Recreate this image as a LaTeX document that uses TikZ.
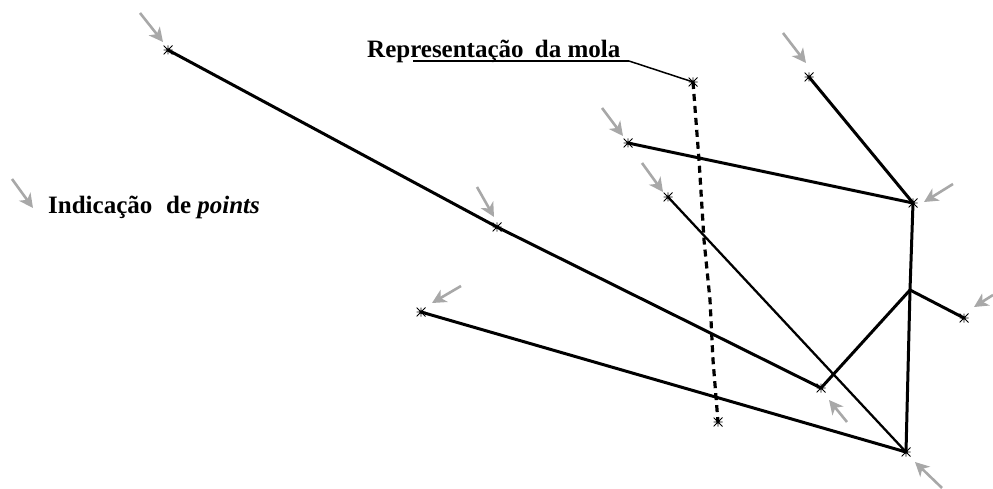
\documentclass[tikz,border=0pt]{standalone}
\usepackage{fontspec}
\setmainfont{Liberation Serif}
\usepackage{tikz}
\usetikzlibrary{arrows.meta}

\definecolor{cinzaseta}{RGB}{168,168,168}
\tikzset{
  ponto/.style={inner sep=0pt, minimum size=9pt,
    path picture={\draw[line width=0.9pt]
      (path picture bounding box.north) -- (path picture bounding box.south)
      (path picture bounding box.east) -- (path picture bounding box.west)
      (path picture bounding box.north east) -- (path picture bounding box.south west)
      (path picture bounding box.north west) -- (path picture bounding box.south east);}},
  barra/.style={line width=3pt, line cap=round},
  fina/.style={line width=2.3pt, line cap=round},
  seta/.style={cinzaseta, line width=2.6pt, -{Stealth[length=14pt, width=14pt, inset=4pt]}},
  molatraco/.style={line width=3.2pt, dash pattern=on 7pt off 5pt},
  rotulo/.style={font=\fontsize{25}{28}\selectfont\bfseries, inner sep=0pt}
}

\begin{document}
\begin{tikzpicture}[x=1pt, y=-1pt]
        \useasboundingbox (0,0) rectangle (993,489);
        % points
        \node[ponto] (a) at (168,50) {};
        \node[ponto] (b) at (497,227) {};
        \node[ponto] (c) at (821,388) {};
        \node[ponto] (e) at (964,318) {};
        \node[ponto] (f) at (913,203) {};
        \node[ponto] (g) at (906,452) {};
        \node[ponto] (h) at (809,77) {};
        \node[ponto] (i) at (628,143) {};
        \node[ponto] (j) at (668,197) {};
        \node[ponto] (k) at (421,312) {};
        \node[ponto] (s1) at (693,82) {};
        \node[ponto] (s2) at (718,422) {};
        \coordinate (d) at (910,290);

        % bars
        \draw[barra] (a.center) -- (b.center) -- (c.center);
        \draw[barra] (c.center) -- (d) -- (e.center);
        \draw[barra] (h.center) -- (f.center);
        \draw[barra] (i.center) -- (f.center);
        \draw[barra] (f.center) -- (d) -- (g.center);
        \draw[barra] (k.center) -- (g.center);
        \draw[fina] (j.center) -- (g.center);

        % spring
        \draw[molatraco] (s1.center) -- (699,160) -- (704,240) -- (710,300) -- (713,360) -- (s2.center);

        % labels
        \node[rotulo, anchor=base west] (mola) at (367,58)
          {Representação\hspace{0.2em} da mola};
        \coordinate (sub1) at (413,61);
        \coordinate (sub2) at (629,61);
        \draw[line width=2.4pt] (sub1) -- (sub2);
        \draw[line width=1.5pt] (sub2) -- (s1.center);

        \node[rotulo, anchor=base west] (legenda) at (48,214)
          {Indicação\hspace{0.3em} de \textit{points}};
        \coordinate (leg1) at (12,179);
        \coordinate (leg2) at (33,208);
        \draw[seta] (leg1) -- (leg2);

        % pointer arrows
        \draw[seta] ([shift={(-28,-37)}]a.center) -- ([shift={(-5,-8)}]a.center);
        \draw[seta] ([shift={(-20,-40)}]b.center) -- ([shift={(-3,-10)}]b.center);
        \draw[seta] ([shift={(-26,-44)}]h.center) -- ([shift={(-3,-14)}]h.center);
        \draw[seta] ([shift={(40,-19)}]f.center) -- ([shift={(11,-1)}]f.center);
        \draw[seta] ([shift={(29,-23)}]e.center) -- ([shift={(10,-11)}]e.center);
        \draw[seta] ([shift={(26,34)}]c.center) -- ([shift={(8,12)}]c.center);
        \draw[seta] ([shift={(36,36)}]g.center) -- ([shift={(9,10)}]g.center);
        \draw[seta] ([shift={(40,-26)}]k.center) -- ([shift={(11,-9)}]k.center);
        \draw[seta] ([shift={(-26,-35)}]i.center) -- ([shift={(-5,-7)}]i.center);
        \draw[seta] ([shift={(-26,-34)}]j.center) -- ([shift={(-5,-5)}]j.center);
    \end{tikzpicture}
\end{document}
